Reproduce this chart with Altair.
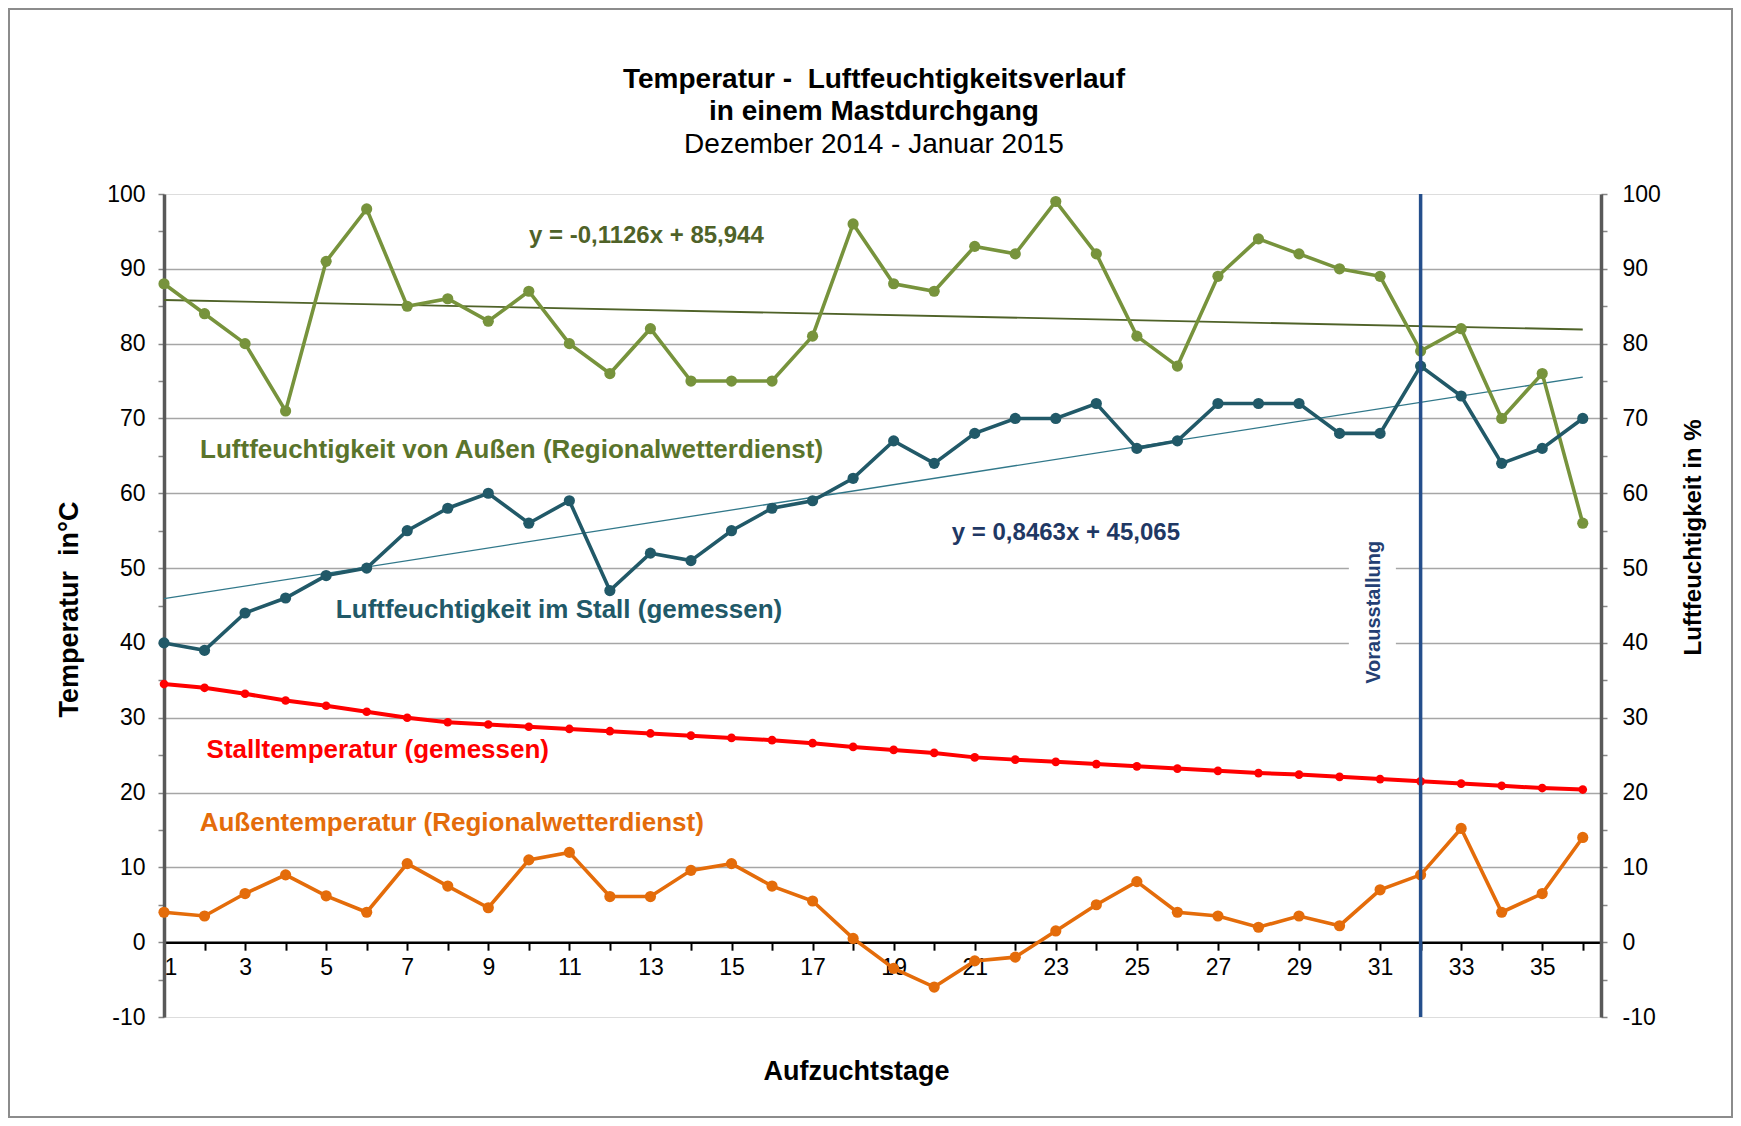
import altair as alt
import pandas as pd

# ---------------- data ----------------
days = list(range(1, 37))

humid_out = [88, 84, 80, 71, 91, 98, 85, 86, 83, 87, 80, 76, 82, 75, 75, 75, 81, 96,
             88, 87, 93, 92, 99, 92, 81, 77, 89, 94, 92, 90, 89, 79, 82, 70, 76, 56]
humid_in = [40, 39, 44, 46, 49, 50, 55, 58, 60, 56, 59, 47, 52, 51, 55, 58, 59, 62,
            67, 64, 68, 70, 70, 72, 66, 67, 72, 72, 72, 68, 68, 77, 73, 64, 66, 70]
temp_in = [34.5, 34.0, 33.2, 32.3, 31.6, 30.8, 30.0, 29.4, 29.1, 28.8, 28.5, 28.2,
           27.9, 27.6, 27.3, 27.0, 26.6, 26.1, 25.7, 25.3, 24.7, 24.4, 24.1, 23.8,
           23.5, 23.2, 22.9, 22.6, 22.4, 22.1, 21.8, 21.5, 21.2, 20.9, 20.6, 20.4]
temp_out = [4.0, 3.5, 6.5, 9.0, 6.2, 4.0, 10.5, 7.5, 4.6, 11.0, 12.0, 6.1, 6.1, 9.6,
            10.5, 7.5, 5.5, 0.5, -3.5, -6.0, -2.5, -2.0, 1.5, 5.0, 8.1, 4.0, 3.5, 2.0,
            3.5, 2.2, 7.0, 9.0, 15.2, 4.0, 6.5, 14.0]

series_keys = ["humid_out", "humid_in", "temp_in", "temp_out"]
series_values = [humid_out, humid_in, temp_in, temp_out]

y_ticks = list(range(-10, 101, 5))
event_day = [32]
event_label = "Vorausstallung"

title_lines = ["Temperatur -\u00a0 Luftfeuchtigkeitsverlauf", "in einem Mastdurchgang"]
subtitle_line = "Dezember 2014 - Januar 2015"

rows = []
for key, vals in zip(series_keys, series_values):
    for d, v in zip(days, vals):
        rows.append({"day": d, "value": v, "series": key})
df = pd.DataFrame(rows)

# ---------------- layout ----------------
W, H = 1437, 823
Y_DOM = [-10, 100]
X_DOM = [1, 36.45]
FONT = "Liberation Sans"
x_axis_offset = -(0 - Y_DOM[0]) / (Y_DOM[1] - Y_DOM[0]) * H

xscale = alt.Scale(domain=X_DOM, nice=False, zero=False)
yscale = alt.Scale(domain=Y_DOM, nice=False, zero=False)

x_axis = alt.Axis(
    values=days,
    labelExpr="datum.value % 2 == 1 ? '' + datum.value : ''",
    offset=x_axis_offset, grid=False,
    domainColor="black", domainWidth=2.5,
    tickColor="black", tickWidth=2, tickSize=8,
    labelFontSize=23, labelColor="black", labelPadding=6, labelFont=FONT,
    labelOverlap=False,
    title="Aufzuchtstage", titleFontSize=27, titleFontWeight="bold", titleColor="black",
    titleFont=FONT, titleX=692, titleY=129, titleBaseline="middle", titleAlign="center",
)

grid_hide = {"condition": {"test": "datum.value % 10 != 0 || datum.value <= 0 || datum.value >= 100",
                           "value": 0}, "value": 1}

left_axis = alt.Axis(
    orient="left", values=y_ticks,
    labelExpr="datum.value % 10 == 0 ? '' + datum.value : ''",
    grid=True, gridColor="#a6a6a6", gridWidth=1.5, gridOpacity=grid_hide,
    domainColor="#595959", domainWidth=3.5,
    tickColor="#868686", tickWidth=1.5, tickSize=6,
    labelFontSize=23, labelColor="black", labelPadding=13, labelFont=FONT,
    title="Temperatur\u00a0 in°C", titleFontSize=27, titleFontWeight="bold", titleColor="black",
    titleFont=FONT, titleAngle=270, titleX=-95, titleY=415,
    titleBaseline="middle", titleAlign="center",
)

right_axis = alt.Axis(
    orient="right", values=y_ticks,
    labelExpr="datum.value % 10 == 0 ? '' + datum.value : ''",
    grid=False,
    domainColor="#595959", domainWidth=3.5,
    tickColor="#868686", tickWidth=1.5, tickSize=6,
    labelFontSize=23, labelColor="black", labelPadding=15, labelFont=FONT,
    title="Luftfeuchtigkeit in %", titleFontSize=24, titleFontWeight="bold", titleColor="black",
    titleFont=FONT, titleAngle=270, titleX=92, titleY=343,
    titleBaseline="middle", titleAlign="center",
)

X = alt.X("day:Q", scale=xscale, axis=x_axis)
Y = alt.Y("value:Q", scale=yscale, axis=left_axis)

base = alt.Chart(df)

styles = {
    "humid_out": dict(color="#77933C", width=3.6, size=125),
    "humid_in": dict(color="#215968", width=3.6, size=125),
    "temp_in": dict(color="#FF0000", width=4.0, size=75),
    "temp_out": dict(color="#E46C0A", width=3.6, size=125),
}

layers = []

# trend lines (linear regression computed by Vega-Lite)
layers.append(
    base.transform_filter(alt.datum.series == "humid_out")
    .transform_regression("day", "value")
    .mark_line(color="#4F6228", strokeWidth=1.8)
    .encode(x=X, y=Y)
)
layers.append(
    base.transform_filter(alt.datum.series == "humid_in")
    .transform_regression("day", "value")
    .mark_line(color="#31788A", strokeWidth=1.3)
    .encode(x=X, y=Y)
)

# series lines with markers
for key in series_keys:
    st = styles[key]
    layers.append(
        base.transform_filter(alt.datum.series == key)
        .mark_line(color=st["color"], strokeWidth=st["width"],
                   point=alt.OverlayMarkDef(filled=True, size=st["size"], color=st["color"], opacity=1))
        .encode(x=X, y=Y)
    )

# event rule
layers.append(
    alt.Chart(pd.DataFrame({"day": event_day}))
    .mark_rule(color="#254F8C", strokeWidth=3.5)
    .encode(x=X)
)


def label(text, xv, yv, color, size, align="left", angle=0):
    return (
        alt.Chart(pd.DataFrame({"day": [xv], "value": [yv], "t": [text]}))
        .mark_text(color=color, fontSize=size, fontWeight="bold", font=FONT,
                   align=align, baseline="middle", angle=angle)
        .encode(x=X, y=Y, text="t:N")
    )


layers += [
    label("y = -0,1126x + 85,944", 12.9, 94.4, "#4F6228", 24, "center"),
    label("Luftfeuchtigkeit von Außen (Regionalwetterdienst)", 1.89, 65.8, "#5A742C", 26),
    label("y = 0,8463x + 45,065", 23.25, 54.7, "#1F3864", 24, "center"),
    label("Luftfeuchtigkeit im Stall (gemessen)", 5.24, 44.45, "#215968", 26),
    label("Stalltemperatur (gemessen)", 2.05, 25.75, "#FF0000", 26),
    label("Außentemperatur (Regionalwetterdienst)", 1.88, 15.95, "#E46C0A", 26),
    label(event_label, 30.85, 44.1, "#243F73", 20, "center", 270),
]

inner = alt.layer(*layers)

# white gap behind the vertical label (also carries the right-hand axis)
gap = (
    alt.Chart(pd.DataFrame({"x1": [30.23], "x2": [31.39], "y1": [32], "y2": [58]}))
    .mark_rect(color="white", opacity=1)
    .encode(
        x=alt.X("x1:Q", scale=xscale, axis=x_axis), x2="x2:Q",
        y=alt.Y("y1:Q", scale=yscale, axis=right_axis), y2="y2:Q",
    )
)

# outer chart-area border
frame = (
    alt.Chart(alt.Data(values=[{"k": 1}]))
    .mark_rect(filled=False, stroke="#8c8c8c", strokeWidth=2)
    .encode(x=alt.value(-155), x2=alt.value(1568), y=alt.value(-185), y2=alt.value(923))
)


def title_text(text, py, weight):
    return (
        alt.Chart(pd.DataFrame({"t": [text]}))
        .mark_text(font=FONT, fontSize=28, color="black", align="center",
                   baseline="middle", fontWeight=weight)
        .encode(x=alt.value(710), y=alt.value(py), text="t:N")
    )


titles = [
    title_text(title_lines[0], -114, "bold"),
    title_text(title_lines[1], -82, "bold"),
    title_text(subtitle_line, -49, "normal"),
]

chart = (
    alt.layer(frame, *titles, gap, inner)
    .resolve_scale(y="independent")
    .properties(
        width=W, height=H,
        autosize=alt.AutoSizeParams(type="none"),
        padding={"left": 156, "top": 186, "right": 132, "bottom": 101},
    )
    .configure_view(stroke="black", strokeWidth=3)
    .configure(background="white")
)

chart.save("out.html", embed_options={"renderer": "svg", "actions": False})
